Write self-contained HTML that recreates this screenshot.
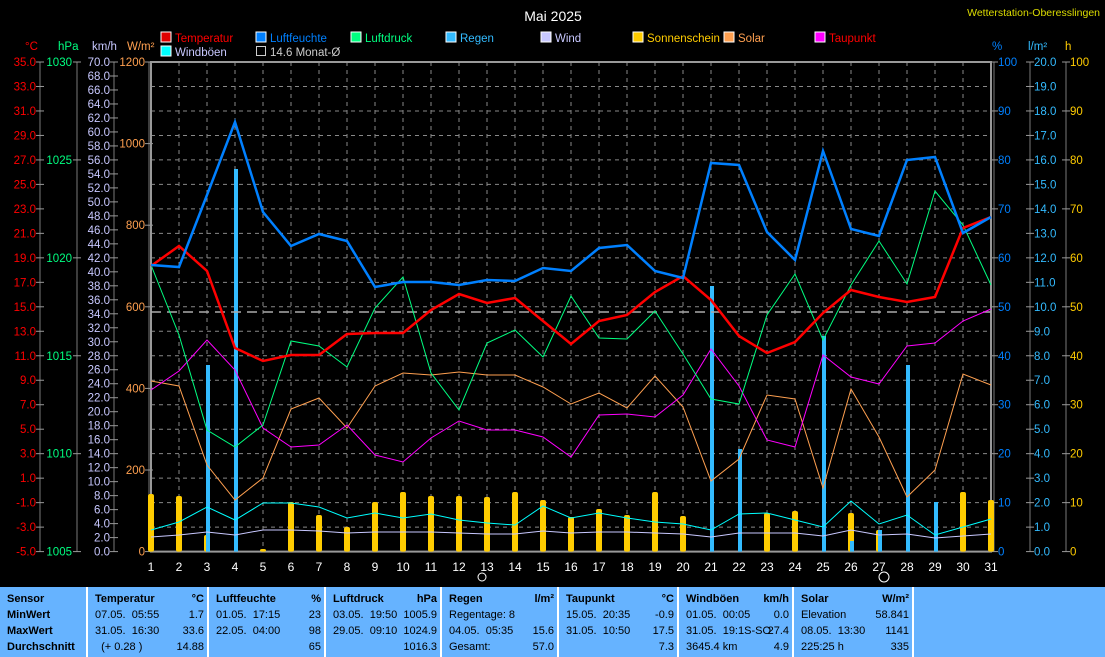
<!DOCTYPE html>
<html><head><meta charset="utf-8"><style>
html,body{margin:0;padding:0;background:#000;width:1105px;height:657px;overflow:hidden;font-family:"Liberation Sans",sans-serif}
svg{position:absolute;left:0;top:0}
#tbl{position:absolute;left:0;top:587px;width:1105px;height:70px;background:#66b3ff;font-size:11px;color:#000}
.c{position:absolute;top:0;height:70px;border-left:2px solid #fff}
.r{position:absolute;white-space:nowrap}
</style></head><body>
<svg id="s" width="1105" height="587" xmlns="http://www.w3.org/2000/svg" font-family="Liberation Sans, sans-serif"></svg>
<div id="tbl"></div>
<script>
const S=document.getElementById('s');let h='';
const X=d=>151+(d-1)*28, T0=62,B=551.6,H=B-T0;
for(let i=1;i<20;i++){const y=T0+i*H/20;h+=`<line x1="151" x2="991" y1="${y}" y2="${y}" stroke="#888" stroke-dasharray="4,4"/>`;}
for(let d=2;d<31;d++)h+=`<line x1="${X(d)}" x2="${X(d)}" y1="${T0}" y2="${B}" stroke="#888" stroke-dasharray="4,4"/>`;
h+=`<rect x="151" y="${T0}" width="840" height="${H}" fill="none" stroke="#999" stroke-width="2"/>`;
function axis(x,lx,vals,col,anchor){h+=`<line x1="${x}" x2="${x}" y1="${T0}" y2="${B}" stroke="#999" stroke-width="0.8"/>`;
vals.forEach(([v,y])=>{h+=`<line x1="${x-4}" x2="${x+4}" y1="${y}" y2="${y}" stroke="#999"/><text x="${lx}" y="${y+4}" fill="${col}" font-size="11.5" text-anchor="${anchor}">${v}</text>`;});}
let a=[];for(let i=0;i<=20;i++)a.push([(35-2*i).toFixed(1),T0+i*H/20]);axis(40,36,a,'#ff0000','end');
a=[];for(let i=0;i<=5;i++)a.push([1030-5*i,T0+i*H/5]);axis(77,72,a,'#00ff80','end');
a=[];for(let i=0;i<=35;i++)a.push([(70-2*i).toFixed(1),T0+i*H/35]);axis(114,110,a,'#c8c8ff','end');
a=[];for(let i=0;i<=6;i++)a.push([1200-200*i,T0+i*H/6]);axis(149,145,a,'#ffa050','end');
a=[];for(let i=0;i<=10;i++)a.push([100-10*i,T0+i*H/10]);axis(994,998,a,'#0080ff','start');
a=[];for(let i=0;i<=20;i++)a.push([(20-i).toFixed(1),T0+i*H/20]);axis(1030,1034,a,'#33bbff','start');
a=[];for(let i=0;i<=10;i++)a.push([100-10*i,T0+i*H/10]);axis(1066,1070,a,'#ffcc00','start');
[['°C',25,'#ff0000'],['hPa',58,'#00ff80'],['km/h',92,'#c8c8ff'],['W/m²',127,'#ffa050'],['%',992,'#0080ff'],['l/m²',1028,'#33bbff'],['h',1065,'#ffcc00']].forEach(([t,x,c])=>h+=`<text x="${x}" y="50" fill="${c}" font-size="11.5">${t}</text>`);
for(let d=1;d<=31;d++)h+=`<text x="${X(d)}" y="571" fill="#fff" font-size="12" text-anchor="middle">${d}</text>`;
h+=`<text x="553" y="21" fill="#fff" font-size="14" text-anchor="middle">Mai 2025</text>`;
h+=`<text x="1100" y="16" fill="#dddd00" font-size="10.5" text-anchor="end">Wetterstation-Oberesslingen</text>`;
[['Temperatur',161,32,'#e00000','#ff0000'],['Luftfeuchte',256,32,'#0080ff','#0080ff'],['Luftdruck',351,32,'#00ff80','#00ff80'],['Regen',446,32,'#33bbff','#33bbff'],['Wind',541,32,'#c8c8ff','#c8c8ff'],['Sonnenschein',633,32,'#ffcc00','#ffcc00'],['Solar',724,32,'#ffa050','#ffa050'],['Taupunkt',815,32,'#ff00ff','#ff0000'],['Windböen',161,46,'#00ffff','#c8c8ff']].forEach(([t,x,y,c,tc])=>{h+=`<rect x="${x}" y="${y}" width="10" height="10" fill="${c}" stroke="#fff"/><text x="${x+14}" y="${y+10}" fill="${tc}" font-size="11.5">${t}</text>`;});
h+=`<rect x="256.5" y="46.5" width="9" height="9" fill="none" stroke="#ccc"/><text x="270" y="56" fill="#ccc" font-size="11.5">14.6 Monat-Ø</text>`;
const sun={1:494,2:496,3:535,5:549,6:502,7:515,8:527,9:502,10:492,11:496,12:496,13:497,14:492,15:500,16:517,17:509,18:515,19:492,20:516,23:513,24:511,26:513,27:530,30:492,31:500};
for(const d in sun){const x=X(+d);h+=`<rect x="${x-3}" y="${sun[d]}" width="6" height="${B-sun[d]}" rx="2" fill="#ffcc00"/>`;}
const rain={3:365,4:169,21:286,22:449,25:336,26:541,27:530,28:365,29:502};
for(const d in rain){const x=X(+d);h+=`<rect x="${x-1}" y="${rain[d]}" width="4" height="${B-rain[d]}" fill="#33bbff"/>`;}
h+=`<line x1="151" x2="991" y1="312" y2="312" stroke="#aaa" stroke-width="1.5" stroke-dasharray="10,6"/>`;
function line(arr,c,w){h+=`<polyline fill="none" stroke="${c}" stroke-width="${w}" points="${arr.map((y,i)=>X(i+1)+','+y).join(' ')}"/>`;}
line([537,535,532,535,530,530,531,533,532,532,532,533,534,534,531,533,532,532,533,534,537,533,533,533,536,530,535,534,538,536,534],'#c8c8ff',1);
line([530,522,507,520,503,503,507,518,513,518,514,520,523,525,506,518,513,518,522,524,530,514,513,520,527,501,524,515,535,527,519],'#00ffff',1);
line([381,386,465,500,478,409,398,428,386,373,375,372,375,375,387,404,393,408,376,407,481,459,395,399,488,389,437,497,470,374,385],'#ffa050',1);
line([390,371,340,370,428,447,445,425,455,462,438,421,430,430,437,457,415,414,417,395,349,386,440,447,355,377,384,346,343,321,309],'#ff00ff',1);
line([265,335,430,447,425,341,346,367,308,277,373,410,343,330,357,296,338,339,311,354,399,404,315,274,340,285,241,284,191,225,285],'#00ff80',1);
line([266,246,271,348,361,355,355,334,333,333,310,294,303,298,321,344,321,315,292,276,300,336,353,342,313,290,297,302,297,228,217],'#ff0000',2.5);
line([265,267,195,122,212,246,234,241,287,282,282,285,280,281,268,271,248,245,271,278,163,165,232,260,151,229,236,160,157,233,217],'#0080ff',2.5);
h+=`<circle cx="482" cy="577" r="4" fill="none" stroke="#fff"/><circle cx="884" cy="577" r="5" fill="none" stroke="#fff"/>`;
S.innerHTML=h;
const cols=[
[86,'Temperatur','°C',[['07.05.  05:55','1.7'],['31.05.  16:30','33.6'],['  (+ 0.28 )','14.88']],119],
[207,'Luftfeuchte','%',[['01.05.  17:15','23'],['22.05.  04:00','98'],['','65']],115],
[324,'Luftdruck','hPa',[['03.05.  19:50','1005.9'],['29.05.  09:10','1024.9'],['','1016.3']],114],
[440,'Regen','l/m²',[['Regentage: 8',''],['04.05.  05:35','15.6'],['Gesamt:','57.0']],115],
[557,'Taupunkt','°C',[['15.05.  20:35','-0.9'],['31.05.  10:50','17.5'],['','7.3']],118],
[677,'Windböen','km/h',[['01.05.  00:05','0.0'],['31.05.  19:1S-SO','27.4'],['3645.4 km','4.9']],113],
[792,'Solar','W/m²',[['Elevation','58.841'],['08.05.  13:30','1141'],['225:25 h','335']],118]];
let t='';
t+=`<div class="r" style="left:7px;top:6px;font-weight:bold">Sensor</div><div class="r" style="left:7px;top:22px;font-weight:bold">MinWert</div><div class="r" style="left:7px;top:38px;font-weight:bold">MaxWert</div><div class="r" style="left:7px;top:54px;font-weight:bold">Durchschnitt</div>`;
cols.forEach(([x,n,u,rows,w])=>{t+=`<div class="c" style="left:${x}px;width:${w}px"><div class="r" style="left:7px;top:6px;font-weight:bold">${n}</div><div class="r" style="right:3px;top:6px;font-weight:bold">${u}</div>`;
rows.forEach(([l,r],i)=>{t+=`<div class="r" style="left:7px;top:${22+16*i}px;white-space:pre">${l}</div><div class="r" style="right:3px;top:${22+16*i}px">${r}</div>`;});t+='</div>';});
t+=`<div class="c" style="left:912px;width:190px"></div>`;
document.getElementById('tbl').innerHTML=t;
</script>
</body></html>
